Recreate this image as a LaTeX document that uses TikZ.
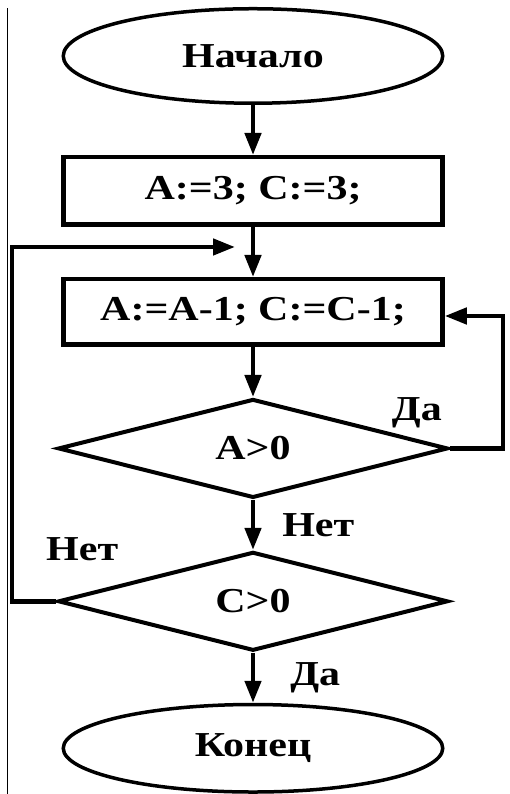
\documentclass[tikz,border=0pt]{standalone}
\usepackage{fontspec}
\newfontfamily\chartfont{Liberation Serif Bold}[FakeStretch=1.2]
\usetikzlibrary{positioning,arrows.meta,shapes.geometric,calc}

\begin{document}
\begin{tikzpicture}[
  x=1pt, y=1pt,
  font=\chartfont\fontsize{35}{38}\selectfont,
  term/.style={draw, ellipse, line width=3.5pt, minimum width=379.5pt, minimum height=94.5pt},
  proc/.style={draw, line width=4.5pt, minimum width=379pt, minimum height=67.5pt},
  cond/.style={draw, diamond, line width=4pt, minimum width=390pt, minimum height=93pt, inner sep=0pt},
  arr/.style={-{Triangle[length=22pt, width=16pt]}, line width=4.5pt},
  lab/.style={inner sep=0pt}
]
\useasboundingbox (0,0) rectangle (509,794);
\draw[line width=1.8pt] (7.5,0) -- (7.5,786);
\node[term] (start) at (253,738) {Начало};
\node[proc, below=50pt of start] (init) {A:=3; C:=3;};
\node[proc, minimum height=65.5pt, below=50pt of init] (body) {A:=A-1; C:=C-1;};
\node[cond, below=50pt of body] (condA) {A>0};
\node[cond, below=50pt of condA] (condC) {C>0};
\node[term, minimum height=87.5pt, below=50pt of condC] (stop) {Конец};
\coordinate (loopend) at ([xshift=-18pt]$(init.south)!0.4!(body.north)$);
\node[lab, above left=20pt and 8pt of condA.east] (yesA) {Да};
\node[lab, above right=40pt and -10pt of condC.west] (noC) {Нет};
\draw[arr] (start) -- (init);
\draw[arr] (init) -- (body);
\draw[arr] (body) -- (condA);
\draw[arr] (condA) -- node[lab, midway, right=27pt] (noA) {Нет} (condC);
\draw[arr] (condC) -- node[lab, midway, right=35pt] (yesC) {Да} (stop);
\draw[arr] (condA.east) -- ++(53,0) |- ([yshift=-4pt]body.east);
\draw[arr] (condC.west) -- ++(-44,0) |- (loopend);
\end{tikzpicture}
\end{document}
